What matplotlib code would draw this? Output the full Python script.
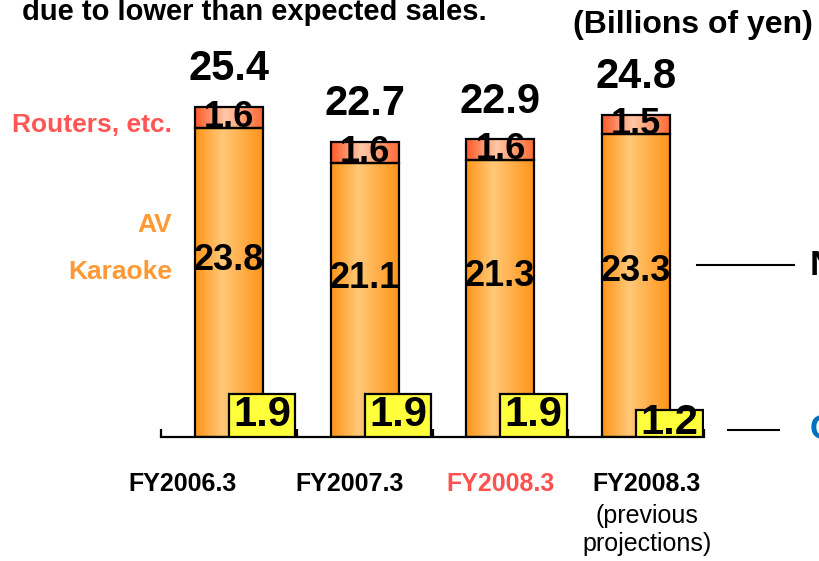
import numpy as np
import matplotlib.pyplot as plt
from matplotlib.colors import LinearSegmentedColormap

plt.rcParams['font.family'] = ['Liberation Sans', 'DejaVu Sans']

# chart values (billions of yen)
categories = ['FY2006.3', 'FY2007.3', 'FY2008.3', 'FY2008.3']
sub_labels = ['', '', '', '(previous\nprojections)']
cat_colors = ['black', 'black', '#FF5050', 'black']
av_karaoke = [23.8, 21.1, 21.3, 23.3]
routers = [1.6, 1.6, 1.6, 1.5]
totals = [25.4, 22.7, 22.9, 24.8]
other = [1.9, 1.9, 1.9, 1.2]

# gradients for the bar faces
orange_cmap = LinearSegmentedColormap.from_list(
    'orange', [(0, '#FF9418'), (0.4, '#FFC878'), (1, '#FF9418')])
red_cmap = LinearSegmentedColormap.from_list(
    'red', [(0, '#FF5A28'), (0.45, '#FFC8A8'), (1, '#FF6A34')])
grad = np.linspace(0, 1, 256).reshape(1, -1)

fig = plt.figure(figsize=(8.19, 5.61), dpi=100)
ax = fig.add_axes([161/819, 124/561, 543/819, 390/561])

x = np.arange(len(categories))
width = 0.5
box_scale = 1.75  # the yellow boxes are drawn on their own scale
box_h = [v * box_scale for v in other]

bars_av = ax.bar(x, av_karaoke, width, color='none', edgecolor='black', lw=1.6, zorder=3)
bars_rt = ax.bar(x, routers, width, bottom=av_karaoke, color='none',
                 edgecolor='black', lw=1.6, zorder=3)
for bars, cmap in [(bars_av, orange_cmap), (bars_rt, red_cmap)]:
    for p in bars:
        im = ax.imshow(grad, cmap=cmap, aspect='auto', zorder=2,
                       extent=[p.get_x(), p.get_x() + p.get_width(),
                               p.get_y(), p.get_y() + p.get_height()])
        im.set_clip_path(p)

boxes = ax.bar(x, box_h, 0.49, align='edge', color='#FFFF3C', edgecolor='black',
               lw=1.6, zorder=4)

ax.set_xlim(-0.5, 3.5)
ax.set_ylim(0, 30)

# value labels
for i in range(len(x)):
    ax.text(x[i], totals[i] + 2.9, f'{totals[i]:.1f}', ha='center', va='center',
            fontsize=30, fontweight='bold', zorder=6)
    ax.text(x[i], av_karaoke[i] + routers[i] / 2, f'{routers[i]:.1f}', ha='center',
            va='center', fontsize=26, fontweight='bold', zorder=6)
    ax.text(x[i], (box_h[i] + av_karaoke[i]) / 2, f'{av_karaoke[i]:.1f}', ha='center',
            va='center', fontsize=26, fontweight='bold', zorder=6)
    ax.text(x[i] + 0.245, box_h[i] / 2, f'{other[i]:.1f}', ha='center', va='center',
            fontsize=30, fontweight='bold', zorder=6)

# category labels
label_shift = [-0.34, -0.11, 0.0, 0.08]
for i in range(len(x)):
    ax.text(x[i] + label_shift[i], -3.65, categories[i], ha='center', va='center',
            fontsize=18, fontweight='bold', color=cat_colors[i])
    if sub_labels[i]:
        ax.text(x[i] + label_shift[i], -7.15, sub_labels[i], ha='center', va='center',
                fontsize=18, linespacing=1.2)

# segment names on the left
ax.text(-0.42, 24.0, 'Routers, etc.', ha='right', va='center', fontsize=19,
        fontweight='bold', color='#FF5555')
ax.text(-0.42, 16.3, 'AV', ha='right', va='center', fontsize=19,
        fontweight='bold', color='#FF9933')
ax.text(-0.42, 12.7, 'Karaoke', ha='right', va='center', fontsize=19,
        fontweight='bold', color='#FF9933')

# callouts on the right (cut off at the edge)
ax.plot([3.45, 4.16], [13.2, 13.2], color='black', lw=1.5, clip_on=False)
ax.text(4.275, 13.2, 'N', ha='left', va='center', fontsize=25, fontweight='bold')
ax.plot([3.68, 4.05], [0.55, 0.55], color='black', lw=1.5, clip_on=False)
ax.text(4.28, 0.55, 'C', ha='left', va='center', fontsize=25, fontweight='bold',
        color='#0070C0')

# axis: only the baseline with inward ticks between categories
for s in ['top', 'left', 'right']:
    ax.spines[s].set_visible(False)
ax.spines['bottom'].set_linewidth(1.6)
ax.set_yticks([])
ax.set_xticks(np.arange(-0.5, 4, 1))
ax.set_xticklabels([])
ax.tick_params(axis='x', direction='in', length=6, width=1.6)

fig.text(22/819, 1 - 12/561, 'due to lower than expected sales.', ha='left',
         va='center', fontsize=21, fontweight='bold')
fig.text(813/819, 1 - 25/561, '(Billions of yen)', ha='right', va='center',
         fontsize=23, fontweight='bold')

plt.savefig('out.png', dpi=100)
